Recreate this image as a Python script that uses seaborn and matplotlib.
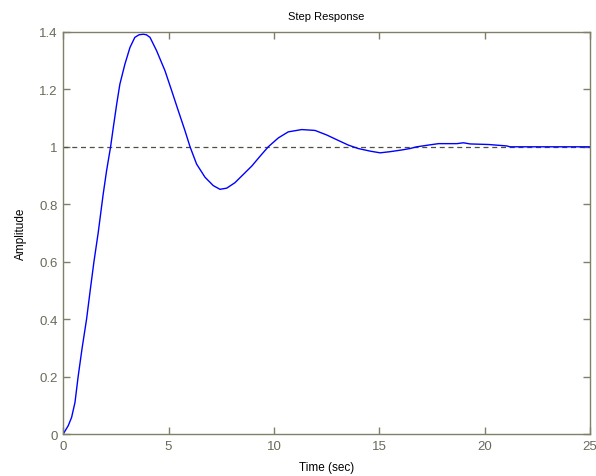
import pandas as pd
import matplotlib
matplotlib.use("Agg")
import matplotlib.pyplot as plt
import seaborn as sns

# values
time_sec = [0, 0.05, 0.24, 0.4, 0.56, 0.71, 0.9, 1.11, 1.3, 1.46, 1.66, 1.9,
            2.06, 2.25, 2.38, 2.54, 2.69, 2.93, 3.17, 3.4, 3.6, 3.8, 3.95,
            4.12, 4.43, 4.83, 5.15, 5.46, 5.78, 6.02, 6.33, 6.73, 7.12, 7.44,
            7.76, 8.15, 8.55, 8.95, 9.34, 9.73, 10.21, 10.68, 11.32, 11.95,
            12.51, 13.06, 13.53, 14.0, 14.56, 15.04, 15.51, 16.07, 16.46,
            16.78, 17.33, 17.81, 18.68, 18.99, 19.31, 20.18, 21.05, 21.2, 25]
amplitude = [0, 0.006, 0.029, 0.058, 0.11, 0.2, 0.3, 0.4, 0.51, 0.6, 0.7,
             0.836, 0.917, 1.0, 1.068, 1.149, 1.218, 1.288, 1.346, 1.381,
             1.39, 1.392, 1.39, 1.381, 1.335, 1.265, 1.195, 1.126, 1.056, 1.0,
             0.94, 0.894, 0.865, 0.852, 0.856, 0.875, 0.904, 0.933, 0.967, 1.0,
             1.031, 1.052, 1.06, 1.057, 1.041, 1.022, 1.006, 0.994, 0.985,
             0.979, 0.983, 0.989, 0.994, 1.0, 1.006, 1.011, 1.011, 1.014, 1.01,
             1.008, 1.003, 1.0, 1.0]
steady_state = 1.0

x_ticks = [0, 5, 10, 15, 20, 25]
y_ticks = [0, 0.2, 0.4, 0.6, 0.8, 1.0, 1.2, 1.4]
y_labels = ["0", "0.2", "0.4", "0.6", "0.8", "1", "1.2", "1.4"]

df = pd.DataFrame({"Time (sec)": time_sec, "Amplitude": amplitude})

sns.set_style("ticks")
plt.rcParams["font.family"] = ["Liberation Sans", "DejaVu Sans"]

axis_col = "#80806a"
label_col = "#6a6a5a"

fig = plt.figure(figsize=(5.96, 4.77), dpi=100)
ax = fig.add_axes([0.106, 0.088, 0.884, 0.843])

sns.lineplot(data=df, x="Time (sec)", y="Amplitude", color="#0000ff",
             linewidth=1.0, ax=ax)
ax.axhline(steady_state, color="#505040", linestyle=(0, (4, 3)), linewidth=0.9,
           zorder=1)

ax.set_xlim(0, 25)
ax.set_ylim(0, 1.4)
ax.set_xticks(x_ticks)
ax.set_xticklabels([str(t) for t in x_ticks])
ax.set_yticks(y_ticks)
ax.set_yticklabels(y_labels)

for s in ax.spines.values():
    s.set_visible(True)
    s.set_color(axis_col)
    s.set_linewidth(1.0)

ax.tick_params(direction="in", length=5, width=1.0, color=axis_col,
               labelcolor=label_col, labelsize=9.5, top=True, right=True, pad=4)

ax.set_title("Step Response", fontsize=8, pad=9, color="black")
ax.set_xlabel("Time (sec)", fontsize=8.5, labelpad=7, color="black")
ax.set_ylabel("Amplitude", fontsize=8.5, labelpad=9, color="black")

plt.savefig("out.png", dpi=100)
plt.close()
